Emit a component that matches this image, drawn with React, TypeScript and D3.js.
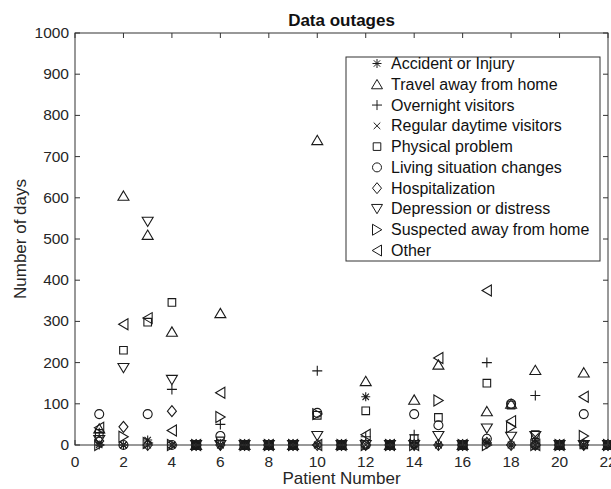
import React from 'react';
import * as d3 from 'd3';

const patients = d3.range(1, 23);

const seriesNames = [
  'Accident or Injury',
  'Travel away from home',
  'Overnight visitors',
  'Regular daytime visitors',
  'Physical problem',
  'Living situation changes',
  'Hospitalization',
  'Depression or distress',
  'Suspected away from home',
  'Other',
];

const markerKinds = ['*', '^', '+', 'x', 's', 'o', 'd', 'v', '>', '<'];

// days per patient 1..22
const accident = [0, 0, 12, 0, 0, 0, 0, 0, 0, 0, 0, 117, 0, 0, 0, 0, 5, 0, 0, 0, 0, 0];
const travel = [40, 605, 510, 275, 0, 320, 0, 0, 0, 740, 0, 155, 0, 110, 195, 0, 82, 100, 182, 0, 176, 0];
const overnight = [30, 0, 0, 135, 0, 50, 0, 0, 0, 180, 0, 20, 0, 25, 0, 0, 200, 0, 120, 0, 0, 0];
const daytime = [5, 0, 0, 0, 0, 0, 0, 0, 0, 0, 0, 0, 0, 0, 0, 0, 8, 0, 20, 0, 0, 0];
const physical = [28, 230, 298, 346, 0, 10, 0, 0, 0, 72, 0, 83, 0, 15, 67, 0, 150, 97, 25, 0, 0, 0];
const living = [75, 0, 75, 0, 0, 22, 0, 0, 0, 78, 0, 0, 0, 75, 48, 0, 15, 100, 0, 0, 75, 0];
const hospital = [10, 44, 0, 82, 0, 0, 0, 0, 0, 0, 0, 0, 0, 0, 0, 0, 5, 0, 0, 0, 0, 0];
const depression = [12, 187, 542, 158, 0, 0, 0, 0, 0, 22, 0, 0, 0, 0, 22, 0, 40, 20, 22, 0, 0, 0];
const suspected = [0, 20, 5, 0, 0, 68, 0, 0, 0, 75, 0, 0, 0, 0, 108, 0, 0, 43, 0, 0, 22, 0];
const other = [42, 293, 308, 35, 0, 127, 0, 0, 0, 0, 0, 25, 0, 0, 211, 0, 375, 58, 0, 0, 117, 0];

const series = [accident, travel, overnight, daytime, physical, living, hospital, depression, suspected, other];

const xTicks = d3.range(0, 23, 2);
const yTicks = d3.range(0, 1001, 100);

function markerPath(kind: string): string {
  switch (kind) {
    case '*':
      return 'M-4.5,0H4.5M0,-4.5V4.5M-3.2,-3.2L3.2,3.2M-3.2,3.2L3.2,-3.2';
    case '^':
      return 'M0,-4.8L5.5,4.5L-5.5,4.5Z';
    case 'v':
      return 'M0,4.8L5.5,-4.5L-5.5,-4.5Z';
    case '>':
      return 'M4.8,0L-4.5,5.5L-4.5,-5.5Z';
    case '<':
      return 'M-4.8,0L4.5,5.5L4.5,-5.5Z';
    case '+':
      return 'M-5,0H5M0,-5V5';
    case 'x':
      return 'M-3.3,-3.3L3.3,3.3M-3.3,3.3L3.3,-3.3';
    case 's':
      return 'M-3.8,-3.8H3.8V3.8H-3.8Z';
    case 'd':
      return 'M0,-5.5L4.5,0L0,5.5L-4.5,0Z';
    case 'o':
    default:
      return 'M4.5,0A4.5,4.5 0 1 1 -4.5,0A4.5,4.5 0 1 1 4.5,0Z';
  }
}

export default function App() {
  const width = 611;
  const height = 489;
  const margin = { top: 33, right: 3, bottom: 44, left: 75 };
  const font = '"Liberation Sans", Arial, Helvetica, sans-serif';
  const axisColor = '#333';
  const markColor = '#1a1a1a';

  const x = d3.scaleLinear().domain([0, 22]).range([margin.left, width - margin.right]);
  const y = d3.scaleLinear().domain([0, 1000]).range([height - margin.bottom, margin.top]);

  const [x0, x1] = x.range();
  const [y0, y1] = y.range();

  const legend = { left: 346, top: 57, right: 600, bottom: 261 };
  const rowY = d3.scaleLinear().domain([0, 9]).range([legend.top + 6.5, legend.bottom - 10.5]);

  return (
    <svg
      width={width}
      height={height}
      style={{ position: 'absolute', left: 0, top: 0, background: '#fff' }}
      fontFamily={font}
    >
      <rect x={0} y={0} width={width} height={height} fill="#fff" />

      {/* markers */}
      {series.map((vals, si) => (
        <g key={si} fill="none" stroke={markColor} strokeWidth={1.1}>
          {vals.map((v, i) => (
            <path
              key={i}
              d={markerPath(markerKinds[si])}
              transform={`translate(${x(patients[i])},${y(v)})`}
            />
          ))}
        </g>
      ))}

      {/* axes box */}
      <g stroke={axisColor} strokeWidth={1} fill="none">
        <rect x={x0} y={y1} width={x1 - x0} height={y0 - y1} />
        {xTicks.map((t) => (
          <g key={t}>
            <line x1={x(t)} x2={x(t)} y1={y0} y2={y0 - 5} />
            <line x1={x(t)} x2={x(t)} y1={y1} y2={y1 + 5} />
          </g>
        ))}
        {yTicks.map((t) => (
          <g key={t}>
            <line x1={x0} x2={x0 + 5} y1={y(t)} y2={y(t)} />
            <line x1={x1} x2={x1 - 5} y1={y(t)} y2={y(t)} />
          </g>
        ))}
      </g>

      {/* tick labels */}
      <g fill="#262626" fontSize={15.5}>
        {xTicks.map((t) => (
          <text key={t} x={x(t)} y={y0 + 22} textAnchor="middle">
            {t}
          </text>
        ))}
        {yTicks.map((t) => (
          <text key={t} x={x0 - 6} y={y(t) + 5} textAnchor="end">
            {t}
          </text>
        ))}
      </g>

      {/* labels */}
      <text x={(x0 + x1) / 2} y={26} textAnchor="middle" fontSize={17} fontWeight="bold" fill="#111">
        Data outages
      </text>
      <text x={(x0 + x1) / 2} y={height - 5} textAnchor="middle" fontSize={17} fill="#262626">
        Patient Number
      </text>
      <text
        transform={`translate(26,${(y0 + y1) / 2}) rotate(-90)`}
        textAnchor="middle"
        fontSize={17}
        fill="#262626"
      >
        Number of days
      </text>

      {/* legend */}
      <rect
        x={legend.left}
        y={legend.top}
        width={legend.right - legend.left}
        height={legend.bottom - legend.top}
        fill="#fff"
        stroke={axisColor}
        strokeWidth={1}
      />
      {seriesNames.map((name, i) => (
        <g key={name} transform={`translate(0,${rowY(i)})`}>
          <path
            d={markerPath(markerKinds[i])}
            transform="translate(377,0)"
            fill="none"
            stroke={markColor}
            strokeWidth={1}
          />
          <text x={391} y={5.5} fontSize={16} fill="#111">
            {name}
          </text>
        </g>
      ))}
    </svg>
  );
}
